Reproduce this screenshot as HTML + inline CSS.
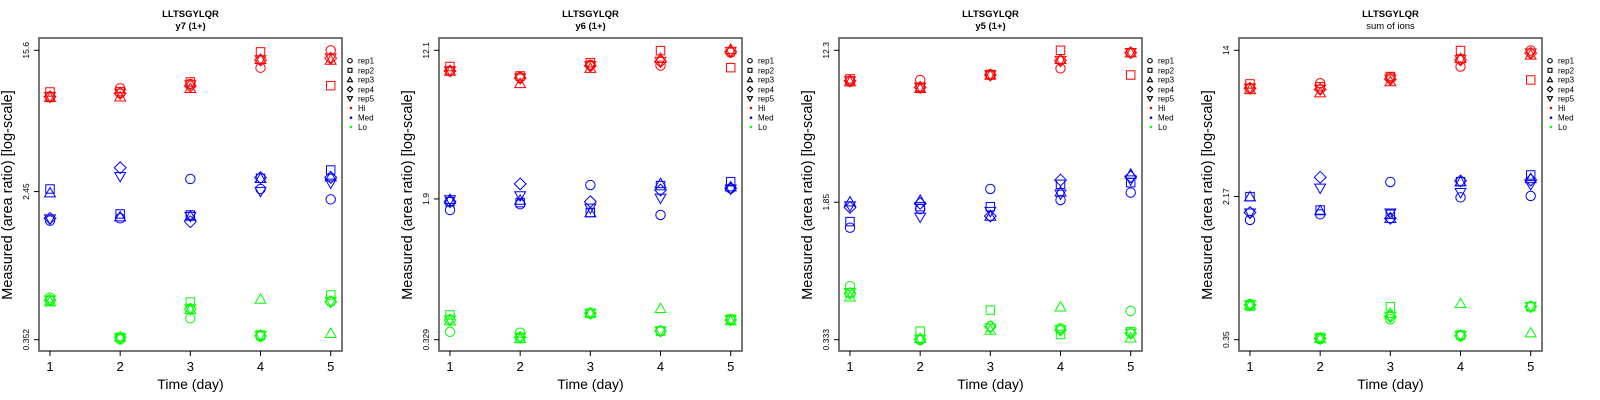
<!DOCTYPE html>
<html><head><meta charset="utf-8"><style>
html,body{margin:0;padding:0;background:#fff;}
svg{display:block;font-family:"Liberation Sans",Arial,sans-serif;}
</style></head><body>
<svg id="chart" width="1600" height="400" viewBox="0 0 1600 400" xmlns="http://www.w3.org/2000/svg"></svg>
<script>
// ---- data (log10 area ratio); each row = one day, each entry = rep1..rep5 ----
const days = [1, 2, 3, 4, 5];
const reps = ["rep1", "rep2", "rep3", "rep4", "rep5"];
const levels = ["Hi", "Med", "Lo"];
const titles = ["y7 (1+)", "y6 (1+)", "y5 (1+)", "sum of ions"];
const peptide = "LLTSGYLQR";
const tickLabels = [["0.352", "2.45", "15.6"], ["0.329", "1.9", "12.1"], ["0.333", "1.85", "12.3"], ["0.35", "2.17", "14"]];
const tickValues = [[0.352, 2.45, 15.6], [0.329, 1.9, 12.1], [0.333, 1.85, 12.3], [0.35, 2.17, 14]];

const p1Hi = [[0.926,0.956,0.926,0.929,0.929],[0.977,0.958,0.929,0.948,0.948],[1.002,1.013,0.977,0.990,0.996],[1.094,1.184,1.142,1.138,1.138],[1.193,0.992,1.138,1.148,1.148]];
const p1Med = [[0.224,0.404,0.383,0.237,0.233],[0.237,0.262,0.247,0.525,0.474],[0.461,0.256,0.250,0.218,0.247],[0.404,0.465,0.465,0.469,0.389],[0.345,0.512,0.474,0.470,0.436]];
const p1Lo = [[-0.214,-0.231,-0.237,-0.228,-0.228],[-0.452,-0.440,-0.436,-0.442,-0.446],[-0.332,-0.239,-0.281,-0.279,-0.279],[-0.436,-0.427,-0.222,-0.431,-0.431],[-0.237,-0.199,-0.417,-0.237,-0.237]];

const p2Hi = [[0.971,0.995,0.971,0.971,0.971],[0.937,0.944,0.904,0.932,0.932],[1.004,1.016,0.986,0.998,0.998],[1.000,1.081,1.040,1.022,1.022],[1.070,0.989,1.089,1.076,1.076]];
const p2Med = [[0.219,0.264,0.277,0.264,0.273],[0.250,0.259,0.273,0.360,0.295],[0.354,0.205,0.205,0.264,0.228],[0.192,0.351,0.363,0.327,0.282],[0.336,0.372,0.345,0.336,0.331]];
const p2Lo = [[-0.440,-0.349,-0.380,-0.376,-0.376],[-0.445,-0.476,-0.476,-0.470,-0.470],[-0.343,-0.340,-0.337,-0.340,-0.340],[-0.436,-0.436,-0.313,-0.436,-0.436],[-0.376,-0.371,-0.380,-0.376,-0.376]];

const p3Hi = [[0.920,0.935,0.920,0.924,0.924],[0.929,0.889,0.884,0.889,0.889],[0.960,0.958,0.956,0.956,0.956],[0.992,1.090,1.041,1.034,1.034],[1.077,0.956,1.077,1.077,1.077]];
const p3Med = [[0.129,0.162,0.270,0.239,0.246],[0.230,0.243,0.279,0.261,0.185],[0.339,0.243,0.192,0.192,0.216],[0.279,0.364,0.324,0.387,0.310],[0.319,0.373,0.420,0.405,0.387]];
const p3Lo = [[-0.187,-0.223,-0.245,-0.227,-0.223],[-0.479,-0.431,-0.470,-0.476,-0.476],[-0.404,-0.317,-0.425,-0.407,-0.416],[-0.416,-0.449,-0.299,-0.425,-0.425],[-0.322,-0.434,-0.467,-0.443,-0.443]];

const p4Hi = [[0.936,0.960,0.930,0.936,0.936],[0.964,0.945,0.912,0.930,0.930],[0.997,1.001,0.973,0.986,0.986],[1.056,1.145,1.102,1.093,1.093],[1.145,0.982,1.121,1.130,1.130]];
const p4Med = [[0.207,0.336,0.336,0.248,0.244],[0.238,0.262,0.259,0.443,0.382],[0.417,0.238,0.216,0.216,0.244],[0.332,0.419,0.419,0.423,0.358],[0.340,0.456,0.437,0.428,0.401]];
const p4Lo = [[-0.258,-0.270,-0.264,-0.264,-0.264],[-0.454,-0.443,-0.449,-0.449,-0.449],[-0.343,-0.273,-0.310,-0.328,-0.328],[-0.436,-0.430,-0.255,-0.434,-0.434],[-0.273,-0.273,-0.417,-0.273,-0.273]];

const panelData = [[p1Hi, p1Med, p1Lo], [p2Hi, p2Med, p2Lo], [p3Hi, p3Med, p3Lo], [p4Hi, p4Med, p4Lo]];
const levelColors = ["#ff0000", "#0000ff", "#00ff00"];

const NS = "http://www.w3.org/2000/svg";
const svg = document.getElementById("chart");
function mk(tag, attrs, parent) {
  const e = document.createElementNS(NS, tag);
  for (const k in attrs) e.setAttribute(k, attrs[k]);
  (parent || svg).appendChild(e);
  return e;
}
function marker(g, shape, cx, cy, s, color, sw) {
  let e;
  if (shape === 0) e = mk("circle", {cx: cx, cy: cy, r: s}, g);
  else if (shape === 1) e = mk("rect", {x: cx - s * 0.9, y: cy - s * 0.9, width: s * 1.8, height: s * 1.8}, g);
  else if (shape === 2) e = mk("polygon", {points: `${cx},${cy - s * 1.1} ${cx - s * 1.15},${cy + s * 0.9} ${cx + s * 1.15},${cy + s * 0.9}`}, g);
  else if (shape === 3) e = mk("polygon", {points: `${cx},${cy - s * 1.25} ${cx + s * 1.25},${cy} ${cx},${cy + s * 1.25} ${cx - s * 1.25},${cy}`}, g);
  else e = mk("polygon", {points: `${cx},${cy + s * 1.1} ${cx - s * 1.15},${cy - s * 0.9} ${cx + s * 1.15},${cy - s * 0.9}`}, g);
  e.setAttribute("fill", "none");
  e.setAttribute("stroke", color);
  e.setAttribute("stroke-width", sw);
  return e;
}

for (let p = 0; p < 4; p++) {
  const ox = p * 400;
  const panel = mk("g", {});
  
  
  const L = ox + 39, R = ox + 342, T = 38, B = 351;
  const yTop = 50.3, yBot = 339.7;
  const lmin = Math.log10(tickValues[p][0]), lmax = Math.log10(tickValues[p][2]);
  const yScale = v => yBot - (v - lmin) / (lmax - lmin) * (yBot - yTop);
  const xScale = d => ox + 50 + (d - 1) * (280.7 / 4);

  // title
  const t1 = mk("text", {x: ox + 190.5, y: 17, "text-anchor": "middle", "font-size": 9.5, "font-weight": "bold"}, panel);
  t1.textContent = peptide;
  
  
  const t2 = mk("text", {x: ox + 190.5, y: 29, "text-anchor": "middle", "font-size": 9.5, "font-weight": p === 3 ? "normal" : "bold"}, panel);
  t2.textContent = titles[p];
  
  

  // points
  const pts = mk("g", {}, panel);
  
  
  for (let l = 0; l < 3; l++) {
    const series = panelData[p][l];
    for (let d = 0; d < days.length; d++) {
      for (let r = 0; r < reps.length; r++) {
        const m = marker(pts, r, xScale(days[d]), yScale(series[d][r]), 4.7, levelColors[l], 1);
        
        
      }
    }
  }

  // box
  const box = mk("rect", {x: L, y: T, width: R - L, height: B - T, fill: "none", stroke: "#555", "stroke-width": 1.6}, panel);
  
  

  // x axis ticks
  for (let d = 0; d < days.length; d++) {
    const x = xScale(days[d]);
    mk("line", {x1: x, y1: B, x2: x, y2: B + 5, stroke: "#000", "stroke-width": 1}, panel);
    const tl = mk("text", {x: x, y: 371, "text-anchor": "middle", "font-size": 13}, panel);
    tl.textContent = days[d];
    
    
  }
  const xt = mk("text", {x: ox + 190.5, y: 389, "text-anchor": "middle", "font-size": 14}, panel);
  xt.textContent = "Time (day)";
  
  

  // y axis ticks
  for (let i = 0; i < 3; i++) {
    const y = yScale(Math.log10(tickValues[p][i]));
    mk("line", {x1: L, y1: y, x2: L - 5, y2: y, stroke: "#000", "stroke-width": 1}, panel);
    const yl = mk("text", {x: ox + 29, y: y, "text-anchor": "middle", "font-size": 8.5, transform: `rotate(-90 ${ox + 29} ${y})`}, panel);
    yl.textContent = tickLabels[p][i];
    
    
  }
  const yt = mk("text", {x: ox + 12, y: 195, "text-anchor": "middle", "font-size": 14.5, transform: `rotate(-90 ${ox + 12} 195)`}, panel);
  yt.textContent = "Measured (area ratio) [log-scale]";
  
  

  // legend
  const lg = mk("g", {}, panel);
  
  
  const rowY = [60.7, 70.3, 79.7, 89.3, 98.7, 108, 117.7, 127];
  for (let r = 0; r < reps.length; r++) {
    marker(lg, r, ox + 350, rowY[r], 2.2, "#000", 1.1);
    const lt = mk("text", {x: ox + 358, y: rowY[r] + 3, "font-size": 8}, lg);
    lt.textContent = reps[r];
    
    
  }
  for (let l = 0; l < 3; l++) {
    mk("circle", {cx: ox + 351, cy: rowY[5 + l], r: 1.3, fill: levelColors[l]}, lg);
    const lt = mk("text", {x: ox + 358, y: rowY[5 + l] + 3, "font-size": 8}, lg);
    lt.textContent = levels[l];
    
    
  }
}
</script>
</body></html>
